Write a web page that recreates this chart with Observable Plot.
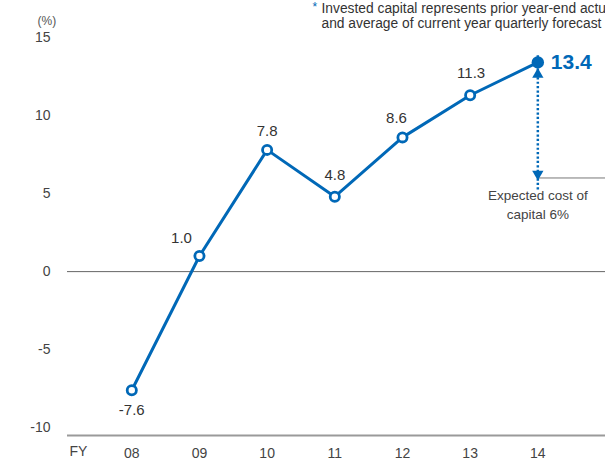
<!DOCTYPE html>
<html>
<head>
<meta charset="utf-8">
<script src="https://cdn.jsdelivr.net/npm/d3@7"></script>
<script src="https://cdn.jsdelivr.net/npm/@observablehq/plot@0.6"></script>
<style>
  html, body { margin: 0; padding: 0; background: #fff; overflow: hidden; }
  #chart svg { display: block; }
</style>
</head>
<body>
<div id="chart"></div>
<script>
// Fiscal years and ROIC (%)
const years = [2008, 2009, 2010, 2011, 2012, 2013, 2014];
const yearLabels = ["08", "09", "10", "11", "12", "13", "14"];
const roic = [-7.6, 1.0, 7.8, 4.8, 8.6, 11.3, 13.4];
const yTicks = [-10, -5, 0, 5, 10, 15];
const costOfCapital = 6;
const noteLines = [
  "Invested capital represents prior year-end actual",
  "and average of current year quarterly forecast"
];
const costLabel = ["Expected cost of", "capital 6%"];

// label nudges (px) so the value labels clear the line
const labelDx = [0, -18, 0, 0, -6, 1];
const labelDy = [20, -18, -19, -22, -19, -22];

const blue = "#0068b7";
const ink = "#333";
const font = "'Liberation Sans', Arial, sans-serif";
const fmt = (v) => (v < 0 ? "-" : "") + Math.abs(v);

const data = years.map((year, i) => ({year, label: yearLabels[i], value: roic[i]}));
const history = data.slice(0, -1);
const latest = data[data.length - 1];

const chart = Plot.plot({
  width: 605,
  height: 466,
  marginTop: 37,
  marginBottom: 31,
  marginLeft: 67,
  marginRight: 0,
  style: {fontFamily: font, color: ink, background: "#fff"},
  x: {domain: [2007.05, 2015], axis: null},
  y: {domain: [-10.5, 15], axis: null},
  marks: [
    // value axis
    Plot.axisY({ticks: yTicks, tickFormat: fmt, tickSize: 0, tickPadding: 17, fontSize: 14, color: "#444", label: null}),
    Plot.text(["(%)"], {frameAnchor: "top-left", dx: -30, dy: -21, fontSize: 12, fill: "#555"}),
    // fiscal-year axis
    Plot.axisX({ticks: years, tickFormat: (d) => yearLabels[years.indexOf(d)], tickSize: 0, tickPadding: 13, fontSize: 14, color: "#444", label: null}),
    Plot.text(["FY"], {frameAnchor: "bottom-left", dx: 2, dy: 20, fontSize: 14, fill: "#444"}),
    // baseline and zero line
    Plot.ruleY([-10.5], {stroke: "#9a9a9a", strokeWidth: 2}),
    Plot.ruleY([0], {x1: 2007.05, x2: 2015, stroke: "#666", strokeWidth: 1}),
    // cost of capital reference
    Plot.ruleY([costOfCapital], {x1: latest.year, x2: 2015, stroke: "#777", strokeWidth: 1}),
    Plot.ruleX([latest.year], {y1: costOfCapital, y2: latest.value, insetTop: 12, insetBottom: 7, stroke: blue, strokeWidth: 2.5, strokeDasharray: "2.2,2.2"}),
    Plot.dot([latest], {x: "year", y: "value", symbol: "triangle", r: 4.2, fill: blue, stroke: "none", dy: 12}),
    Plot.dot([{year: latest.year, value: costOfCapital}], {x: "year", y: "value", symbol: "triangle", rotate: 180, r: 4.2, fill: blue, stroke: "none", dy: -4}),
    Plot.text([costLabel.join("\n")], {x: latest.year, y: costOfCapital, lineAnchor: "top", dy: 9, fontSize: 13.5, lineHeight: 1.4, fill: "#444"}),
    // ROIC line
    Plot.line(data, {x: "year", y: "value", stroke: blue, strokeWidth: 3, strokeLinejoin: "round"}),
    Plot.dot(history, {x: "year", y: "value", r: 4.6, fill: "#fff", stroke: blue, strokeWidth: 2.8}),
    Plot.dot([latest], {x: "year", y: "value", r: 6.2, fill: blue, stroke: "none"}),
    // value labels, one text mark per point so each can be nudged
    ...history.map((d, i) => Plot.text([d], {x: "year", y: "value", text: (d) => fmt(d.value.toFixed(1)).replace(/^(-?\d+)$/, "$1.0"),
      dx: labelDx[i], dy: labelDy[i], fontSize: 15, fill: ink})),
    Plot.text([latest], {x: "year", y: "value", text: (d) => d.value.toFixed(1), dx: 13, textAnchor: "start",
      fontSize: 21, fontWeight: "bold", fill: blue}),
    // footnote
    Plot.text(["*"], {frameAnchor: "top-left", dx: 245, dy: -35, lineAnchor: "top", fontSize: 12, fill: blue}),
    Plot.text([noteLines.join("\n")], {frameAnchor: "top-left", dx: 254, dy: -35, lineAnchor: "top", textAnchor: "start",
      fontSize: 13.8, lineHeight: 1.08, fill: "#333"})
  ]
});

document.getElementById("chart").append(chart);
</script>
</body>
</html>
